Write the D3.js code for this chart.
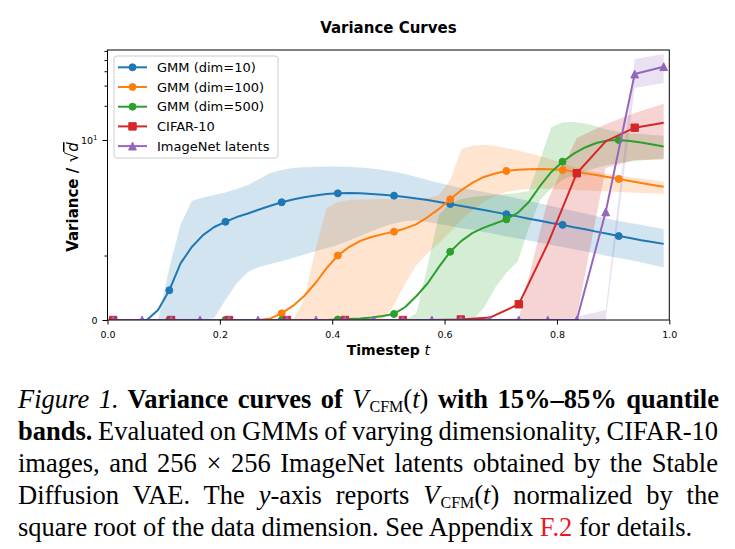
<!DOCTYPE html>
<html>
<head>
<meta charset="utf-8">
<script src="https://cdn.jsdelivr.net/npm/d3@7"></script>
<style>
  body { margin: 0; background: #fff; }
  text { font-family: "DejaVu Sans", sans-serif; }
</style>
</head>
<body>
<svg id="chart" width="735" height="549"></svg>
<script>
// timesteps: 50-point grid for the GMMs, 20-point grid for CIFAR / ImageNet
const tGMM = [0.01,0.03,0.05,0.07,0.09,0.11,0.13,0.15,0.17,0.19,0.21,0.23,0.25,0.27,0.29,0.31,0.33,0.35,0.37,0.39,
  0.41,0.43,0.45,0.47,0.49,0.51,0.53,0.55,0.57,0.59,0.61,0.63,0.65,0.67,0.69,0.71,0.73,0.75,0.77,0.79,
  0.81,0.83,0.85,0.87,0.89,0.91,0.93,0.95,0.97,0.99];
const tImg = [0.01,0.0616,0.1132,0.1647,0.2163,0.2679,0.3195,0.3711,0.4226,0.4742,
  0.5258,0.5774,0.6289,0.6805,0.7321,0.7837,0.8353,0.8868,0.9384,0.99];

const gmm10Mean = [0,0,0,0,0.063,0.232,0.60,0.94,1.27,1.54,1.74,1.94,2.10,2.30,2.50,2.70,2.87,3.01,3.13,3.23,
  3.28,3.30,3.29,3.24,3.18,3.12,3.03,2.93,2.84,2.72,2.60,2.49,2.38,2.28,2.17,2.07,1.97,1.87,1.78,1.69,
  1.62,1.53,1.46,1.38,1.31,1.24,1.18,1.12,1.07,1.02];
const gmm10Lo = [0,0,0,0,0,0,0,0,0,0.012,0.14,0.31,0.46,0.54,0.59,0.64,0.70,0.77,0.84,0.91,
  0.99,1.11,1.24,1.39,1.54,1.67,1.77,1.79,1.73,1.65,1.58,1.50,1.44,1.37,1.30,1.23,1.17,1.11,1.05,0.99,
  0.94,0.89,0.84,0.79,0.74,0.70,0.66,0.62,0.57,0.53];
const gmm10Hi = [0,0,0,0,0,0.52,1.62,2.78,3.00,3.16,3.34,3.60,3.92,4.46,5.06,5.38,5.61,5.70,5.74,5.79,
  5.80,5.74,5.67,5.56,5.38,5.20,4.95,4.65,4.36,4.09,3.88,3.68,3.52,3.38,3.23,3.10,2.93,2.78,2.63,2.49,
  2.35,2.23,2.10,1.99,1.87,1.77,1.69,1.62,1.54,1.47];

const gmm100Mean = [0,0,0,0,0,0,0,0,0,0,0,0,0,0,0.009,0.041,0.093,0.176,0.31,0.52,
  0.75,0.94,1.10,1.21,1.30,1.38,1.49,1.65,1.94,2.33,2.88,3.52,4.13,4.65,5.00,5.28,5.41,5.47,5.50,5.46,
  5.38,5.22,5.04,4.85,4.65,4.46,4.27,4.09,3.92,3.78];
const gmm100Lo = [0,0,0,0,0,0,0,0,0,0,0,0,0,0,0,0,0,0,0,0,
  0,0,0,0,0,0.10,0.31,0.57,0.80,1.04,1.37,1.81,2.28,2.72,3.10,3.38,3.52,3.60,3.64,3.60,
  3.56,3.52,3.49,3.45,3.42,3.38,3.34,3.30,3.27,3.23];
const gmm100Hi = [0,0,0,0,0,0,0,0,0,0,0,0,0,0,0,0,0,0.14,0.87,2.38,
  2.72,2.84,2.87,2.88,2.90,2.90,2.92,2.93,2.96,3.16,4.36,8.32,8.94,9.03,8.85,8.49,8.07,7.66,7.20,6.70,
  6.23,5.74,5.38,5.17,4.95,4.80,4.65,4.51,4.36,4.22];

const gmm500Mean = [0,0,0,0,0,0,0,0,0,0,0,0,0,0,0,0,0,0,0,0,
  0.003,0.006,0.009,0.015,0.024,0.037,0.085,0.176,0.31,0.54,0.83,1.10,1.34,1.52,1.67,1.84,2.13,2.72,3.84,5.17,
  6.40,7.57,8.58,9.40,9.90,10.0,9.80,9.50,9.12,8.76];
const gmm500Lo = [0,0,0,0,0,0,0,0,0,0,0,0,0,0,0,0,0,0,0,0,
  0,0,0,0,0,0,0,0,0,0,0,0,0,0.078,0.26,0.45,0.63,1.51,2.84,3.68,
  4.36,4.85,5.28,5.61,5.98,6.23,6.43,6.56,6.70,6.84];
const gmm500Hi = [0,0,0,0,0,0,0,0,0,0,0,0,0,0,0,0,0,0,0,0,
  0,0,0,0,0,0,0,0.043,0.57,2.03,2.65,2.90,3.03,3.10,3.16,3.23,3.30,3.45,6.63,13.0,
  14.3,14.4,14.0,13.2,12.3,11.8,11.5,11.3,11.1,10.9];

const cifarMean = [0,0,0,0,0,0,0,0,0,0,0,0,0.003,0.014,0.106,1.02,5.03,9.73,12.84,14.2];
const cifarLo   = [0,0,0,0,0,0,0,0,0,0,0,0,0,0,0,0,0.018,5.6,6.63,6.7];
const cifarHi   = [0,0,0,0,0,0,0,0,0,0,0,0,0,0,0.012,2.84,10.4,13.8,17.3,20.8];

const imagenetMean = [0,0,0,0,0,0,0,0,0,0,0,0,0,0,0,0,0,2.18,37.8,43.8];
const imagenetLo   = [0,0,0,0,0,0,0,0,0,0,0,0,0,0,0,0,0,0,28.6,31.6];
const imagenetHi   = [0,0,0,0,0,0,0,0,0,0,0,0,0,0,0,0,0.02,0.063,51.0,56.4];

const seriesNames = ['GMM (dim=10)', 'GMM (dim=100)', 'GMM (dim=500)', 'CIFAR-10', 'ImageNet latents'];
const xTicks = [0, 0.2, 0.4, 0.6, 0.8, 1.0];
const yMajor = [0, 10];
const yMinor = [0.75, 20, 30, 40, 50, 60];

const series = [
  {name: seriesNames[0], color: '#1f77b4', t: tGMM, mean: gmm10Mean, lo: gmm10Lo, hi: gmm10Hi, shape: 'circle', every: 5},
  {name: seriesNames[1], color: '#ff7f0e', t: tGMM, mean: gmm100Mean, lo: gmm100Lo, hi: gmm100Hi, shape: 'circle', every: 5},
  {name: seriesNames[2], color: '#2ca02c', t: tGMM, mean: gmm500Mean, lo: gmm500Lo, hi: gmm500Hi, shape: 'circle', every: 5},
  {name: seriesNames[3], color: '#d62728', t: tImg, mean: cifarMean, lo: cifarLo, hi: cifarHi, shape: 'square', every: 2},
  {name: seriesNames[4], color: '#9467bd', t: tImg, mean: imagenetMean, lo: imagenetLo, hi: imagenetHi, shape: 'triangle', every: 1}
];

const plot = {left: 107.5, right: 669.3, top: 50, bottom: 320};
const svg = d3.select('#chart');

const x = d3.scaleLinear().domain([0, 1]).range([plot.left, plot.right]);
const y = d3.scaleSymlog().constant(0.2889).domain([0, 61.1]).range([plot.bottom, plot.top]);

// matplotlib-like marker shapes
const triangleUp = {
  draw(ctx, size) {
    const s = Math.sqrt(size) / 2;
    ctx.moveTo(0, -s); ctx.lineTo(s, s); ctx.lineTo(-s, s); ctx.closePath();
  }
};
const symbolFor = {
  circle: d3.symbol(d3.symbolCircle, Math.PI * 3.5 * 3.5)(),
  square: d3.symbol(d3.symbolSquare, 7.4 * 7.4)(),
  triangle: d3.symbol(triangleUp, 7.8 * 7.8)()
};

svg.append('defs').append('clipPath').attr('id', 'plotclip')
  .append('rect')
  .attr('x', plot.left).attr('y', plot.top)
  .attr('width', plot.right - plot.left).attr('height', plot.bottom - plot.top);

// title
svg.append('text')
  .attr('x', (plot.left + plot.right) / 2).attr('y', 33)
  .attr('text-anchor', 'middle')
  .style('font-size', '15px').style('font-weight', 'bold')
  .text('Variance Curves');

const g = svg.append('g').attr('clip-path', 'url(#plotclip)');

// quantile bands first, then the lines on top
series.forEach(s => {
  const area = d3.area()
    .x((d, i) => x(s.t[i]))
    .y0((d, i) => y(s.lo[i]))
    .y1((d, i) => y(s.hi[i]));
  g.append('path')
    .attr('d', area(s.mean))
    .attr('fill', s.color)
    .attr('fill-opacity', 0.2);
});

series.forEach(s => {
  const line = d3.line()
    .x((d, i) => x(s.t[i]))
    .y(d => y(d));
  g.append('path')
    .attr('d', line(s.mean))
    .attr('fill', 'none')
    .attr('stroke', s.color)
    .attr('stroke-width', 2)
    .attr('stroke-linejoin', 'round');
  const pts = s.mean.map((v, i) => ({t: s.t[i], v: v})).filter((d, i) => i % s.every === 0);
  g.selectAll(null)
    .data(pts)
    .enter().append('path')
    .attr('d', symbolFor[s.shape])
    .attr('transform', d => 'translate(' + x(d.t) + ',' + y(d.v) + ')')
    .attr('fill', s.color)
    .attr('stroke', s.color)
    .attr('stroke-width', 1);
});

// axes
const xAxis = svg.append('g')
  .attr('transform', 'translate(0,' + plot.bottom + ')')
  .call(d3.axisBottom(x).tickValues(xTicks).tickSize(4.5).tickPadding(7).tickFormat(d3.format('.1f')));
xAxis.select('.domain').remove();
xAxis.selectAll('text').style('font-size', '9.5px').attr('fill', '#000');

const yAxis = svg.append('g')
  .attr('transform', 'translate(' + plot.left + ',0)')
  .call(d3.axisLeft(y).tickValues(yMajor).tickSize(5).tickPadding(5).tickFormat(d => d === 0 ? '0' : '10'));
yAxis.select('.domain').remove();
yAxis.selectAll('text').style('font-size', '9.5px').attr('fill', '#000')
  .filter(d => d === 10)
  .append('tspan').attr('dy', '-0.45em').style('font-size', '7px').text('1');

const yMinorAxis = svg.append('g')
  .attr('transform', 'translate(' + plot.left + ',0)')
  .call(d3.axisLeft(y).tickValues(yMinor).tickSize(3).tickFormat(''));
yMinorAxis.select('.domain').remove();

svg.append('rect')
  .attr('x', plot.left).attr('y', plot.top)
  .attr('width', plot.right - plot.left).attr('height', plot.bottom - plot.top)
  .attr('fill', 'none').attr('stroke', '#000').attr('stroke-width', 1);

// axis labels
const xl = svg.append('text')
  .attr('x', (plot.left + plot.right) / 2).attr('y', 355)
  .attr('text-anchor', 'middle')
  .style('font-size', '14px');
xl.append('tspan').style('font-weight', 'bold').text('Timestep ');
xl.append('tspan').style('font-style', 'oblique').text('t');

const yl = svg.append('text')
  .attr('transform', 'translate(78,197) rotate(-90)')
  .attr('text-anchor', 'middle')
  .style('font-size', '15px');
yl.append('tspan').style('font-weight', 'bold').text('Variance / ');
yl.append('tspan').style('font-size', '17px').text('√');
yl.append('tspan').style('font-style', 'oblique').style('text-decoration', 'overline').text('d');

// legend
const lg = svg.append('g');
lg.append('rect')
  .attr('x', 114).attr('y', 56).attr('width', 164).attr('height', 102)
  .attr('rx', 3)
  .attr('fill', '#fff').attr('fill-opacity', 0.8)
  .attr('stroke', '#cccccc').attr('stroke-width', 1);
series.forEach((s, i) => {
  const ly = 67.3 + i * 19.7;
  lg.append('line')
    .attr('x1', 118).attr('x2', 147).attr('y1', ly).attr('y2', ly)
    .attr('stroke', s.color).attr('stroke-width', 2);
  lg.append('path')
    .attr('d', symbolFor[s.shape])
    .attr('transform', 'translate(132.5,' + ly + ')')
    .attr('fill', s.color).attr('stroke', s.color).attr('stroke-width', 1);
  lg.append('text')
    .attr('x', 157).attr('y', ly + 4.7)
    .style('font-size', '13px')
    .text(s.name);
});

// caption
const capLines = [
  [['Figure 1.', 'i'], [' Variance curves of ', 'b'], ['V', 'm'], ['CFM', 'sub'], ['(', 'r'], ['t', 'm'], [')', 'r'], [' with 15%–85% quantile', 'b']],
  [['bands.', 'b'], [' Evaluated on GMMs of varying dimensionality, CIFAR-10', 'r']],
  [['images, and 256 × 256 ImageNet latents obtained by the Stable', 'r']],
  [['Diffusion VAE. The ', 'r'], ['y', 'm'], ['-axis reports ', 'r'], ['V', 'm'], ['CFM', 'sub'], ['(', 'r'], ['t', 'm'], [')', 'r'], [' normalized by the', 'r']],
  [['square root of the data dimension. See Appendix ', 'r'], ['F.2', 'red'], [' for details.', 'r']]
];
const capBase = [408, 440, 472, 504, 536];
capLines.forEach((segs, li) => {
  const tx = svg.append('text')
    .attr('x', 18).attr('y', capBase[li])
    .style('font-family', '"Liberation Serif", "Times New Roman", serif')
    .style('font-size', '26.5px')
    .style('white-space', 'pre');
  let shift = 0;
  segs.forEach(([txt, st]) => {
    const ts = tx.append('tspan').text(txt);
    if (st === 'i' || st === 'm') ts.style('font-style', 'italic');
    if (st === 'b') ts.style('font-weight', 'bold');
    if (st === 'red') ts.attr('fill', '#e8191e');
    if (st === 'sub') {
      ts.style('font-size', '16px').attr('dx', 1).attr('dy', 3.5 - shift);
      shift = 3.5;
    } else if (shift) {
      ts.attr('dy', -shift);
      shift = 0;
    }
  });
  if (li < 4) {
    const node = tx.node();
    const w = node.getComputedTextLength();
    const spaces = segs.map(s => s[0]).join('').split(' ').length - 1;
    tx.style('word-spacing', ((700 - w) / spaces) + 'px');
  }
});
</script>
</body>
</html>
